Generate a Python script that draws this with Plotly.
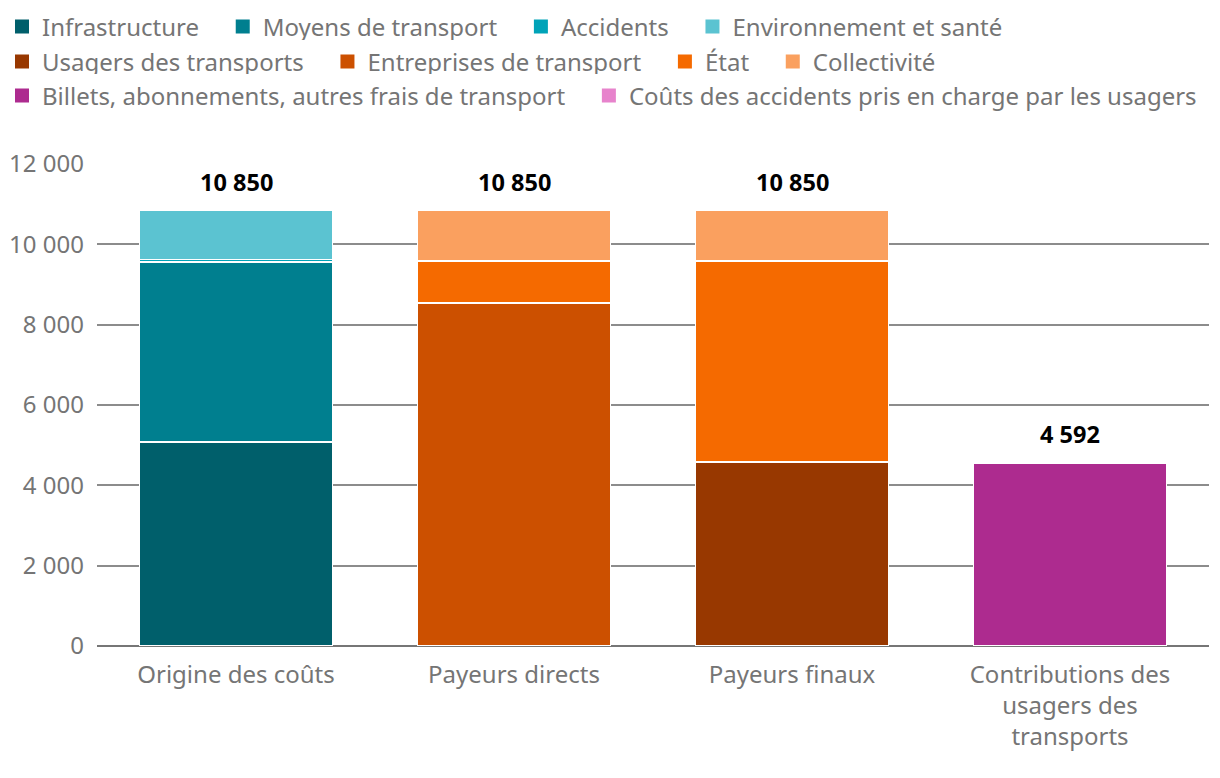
import plotly.graph_objects as go

# === Data ===
categories = ["Origine des coûts", "Payeurs directs", "Payeurs finaux",
              "Contributions des<br>usagers des<br>transports"]

series_names = [
    "Infrastructure", "Moyens de transport", "Accidents", "Environnement et santé",
    "Usagers des transports", "Entreprises de transport", "État", "Collectivité",
    "Billets, abonnements, autres frais de transport",
    "Coûts des accidents pris en charge par les usagers",
]

# values per series, one entry per category (None = not present)
infrastructure = [5080, None, None, None]
moyens_transport = [4480, None, None, None]
accidents = [60, None, None, None]
environnement = [1230, None, None, None]
usagers = [None, None, 4580, None]
entreprises = [None, 8540, None, None]
etat = [None, 1045, 5005, None]
collectivite = [None, 1265, 1265, None]
billets = [None, None, None, 4560]
couts_accidents = [None, None, None, 32]

totals = [10850, 10850, 10850, 4592]

y_ticks = [0, 2000, 4000, 6000, 8000, 10000, 12000]

# === Styles ===
colors = ["#005f6b", "#007f8f", "#00a3b8", "#5bc3d1",
          "#983800", "#cc5000", "#f56a00", "#faa05f",
          "#ad2b8f", "#e783cc"]
legend_of = ["legend", "legend", "legend", "legend",
             "legend2", "legend2", "legend2", "legend2",
             "legend3", "legend3"]
row_end = [False, False, False, True, False, False, False, True, False, True]
FONT = "Noto Sans"
GREY = "#757575"
W, H = 1212, 770   # page adds an 8px body margin
L, R, T, B = 89, 11, 156, 132
PH = H - T - B
PW = W - L - R

values = [infrastructure, moyens_transport, accidents, environnement,
          usagers, entreprises, etat, collectivite, billets, couts_accidents]


def fmt(v):
    return f"{v:,}".replace(",", " ")


fig = go.Figure()
for name, vals, col in zip(series_names, values, colors):
    fig.add_trace(go.Bar(
        name=name, x=categories, y=vals, showlegend=False,
        marker=dict(color=col, line=dict(color="white", width=1.5)),
        hovertemplate="%{x}<br>" + name + " : %{y}<extra></extra>",
    ))

# legend-only entries with bigger square swatches
for name, col, leg, last in zip(series_names, colors, legend_of, row_end):
    fig.add_trace(go.Scatter(
        name=name if last else name + "\u00a0" * 3, x=[None], y=[None],
        mode="markers", legend=leg,
        marker=dict(symbol="square", size=14, color=col), hoverinfo="skip",
    ))

for cat, tot in zip(categories, totals):
    fig.add_annotation(x=cat, y=tot, text=f"<b>{fmt(tot)}</b>", showarrow=False,
                       yshift=28, font=dict(family=FONT, size=23.5, color="black"))

# legends sit above and slightly left of the plot area (paper coords)
leg_x = (-6 - L) / PW
leg_common = dict(orientation="h", x=leg_x, xanchor="left", yanchor="middle",
                  font=dict(family=FONT, size=24, color=GREY),
                  itemclick=False, itemdoubleclick=False, traceorder="normal")

fig.update_layout(
    width=W, height=H,
    barmode="stack", bargap=0.305,
    paper_bgcolor="white", plot_bgcolor="white",
    margin=dict(l=L, r=R, t=T, b=B, autoexpand=False),
    font=dict(family=FONT, color=GREY),
    separators=", ",
    legend=dict(y=1 + (T - 19) / PH, **leg_common),
    legend2=dict(y=1 + (T - 54) / PH, **leg_common),
    legend3=dict(y=1 + (T - 88) / PH, **leg_common),
    xaxis=dict(tickfont=dict(family=FONT, size=24, color=GREY), showline=False,
               showgrid=False, ticklabelstandoff=12, automargin=False),
    yaxis=dict(range=[0, 12000], tickvals=y_ticks,
               ticktext=[fmt(v) for v in y_ticks],
               tickfont=dict(family=FONT, size=24, color=GREY),
               showgrid=True, gridcolor="#8c8c8c", gridwidth=2,
               zeroline=True, zerolinecolor="#767676", zerolinewidth=2,
               ticks="", ticklabelstandoff=12, layer="below traces",
               automargin=False),
)

fig.write_html("out.html")
